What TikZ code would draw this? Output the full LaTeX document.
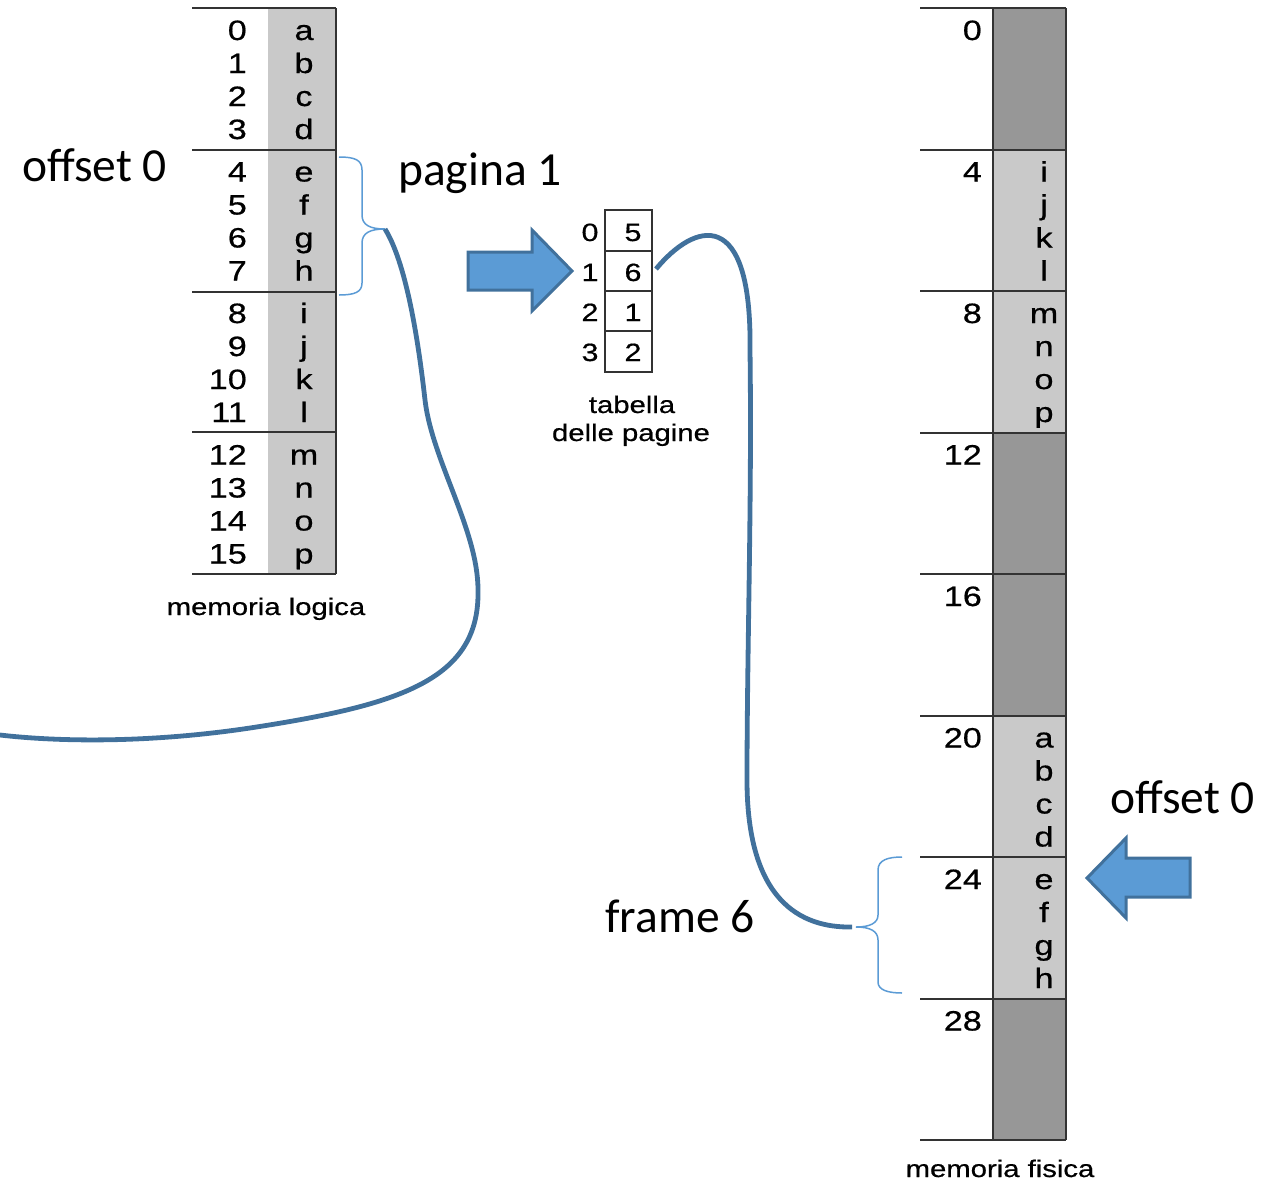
\documentclass[tikz,border=0pt]{standalone}
\usepackage{fontspec}
\setmainfont{Liberation Sans}
\newfontfamily\memfont[FakeStretch=1.22,FakeBold=0.6]{Liberation Sans}
\newfontfamily\calfont{Carlito}
\definecolor{braceblue}{HTML}{5B9BD5}
\definecolor{arrowfill}{HTML}{5B9BD5}
\definecolor{linkblue}{HTML}{41719C}
\definecolor{lightg}{HTML}{C9C9C9}
\definecolor{darkg}{HTML}{979797}
\definecolor{lineg}{HTML}{333333}
\tikzset{
  memline/.style={draw=lineg, line width=2pt},
  memnum/.style={font=\memfont\fontsize{28}{30}\selectfont, anchor=base east, inner sep=0pt},
  memlet/.style={font=\memfont\fontsize{28}{30}\selectfont, anchor=base, inner sep=0pt},
  tabtxt/.style={font=\memfont\fontsize{25}{27}\selectfont, anchor=base, inner sep=0pt},
  captxt/.style={font=\memfont\fontsize{24}{26}\selectfont, anchor=base, inner sep=0pt},
  bigtxt/.style={font=\calfont\fontsize{47.5}{50}\selectfont, anchor=base west, inner sep=0pt},
  bracestyle/.style={draw=braceblue, line width=1.5pt},
  linkstyle/.style={draw=linkblue, line width=4.8pt},
  blockarrow/.style={fill=arrowfill, draw=linkblue, line width=3pt, line join=miter},
}
\begin{document}
\begin{tikzpicture}[x=1pt,y=-1pt]
\useasboundingbox (0,0) rectangle (1271,1183);

% ---------- logical memory ----------
\fill[lightg] (268,8) rectangle (336,574);
\foreach \yy in {8,150,292,432,574} \draw[memline] (192,\yy) -- (336,\yy);
\draw[memline] (336,8) -- (336,574);
\foreach \ch [count=\k from 0] in {a,b,c,d,e,f,g,h,i,j,k,l,m,n,o,p} {
  \pgfmathsetmacro\yb{8+141.5*floor(\k/4)+22+33*mod(\k,4)+10}
  \node[memnum] (lnum\k) at (247,\yb) {\k};
  \node[memlet] (llet\k) at (304,\yb) {\ch};
}
\node[captxt] (lcap) at (266,615) {memoria logica};

% ---------- page table ----------
\draw[memline] (605,210) rectangle (652,372);
\foreach \yy in {251,291,331} \draw[memline] (605,\yy) -- (652,\yy);
\foreach \v [count=\r from 0] in {5,6,1,2} {
  \pgfmathsetmacro\yb{241+40*\r}
  \node[tabtxt] (tidx\r) at (590,\yb) {\r};
  \node[tabtxt] (tval\r) at (633,\yb) {\v};
}
\node[captxt] (tcap1) at (632,413) {tabella};
\node[captxt] (tcap2) at (631,441) {delle pagine};

% ---------- physical memory ----------
\foreach \k/\c in {0/darkg,1/lightg,2/lightg,3/darkg,4/darkg,5/lightg,6/lightg,7/darkg} {
  \pgfmathsetmacro\yt{8+141.5*\k}
  \pgfmathsetmacro\ybot{8+141.5*(\k+1)}
  \fill[\c] (993,\yt) rectangle (1066,\ybot);
}
\foreach \k in {0,...,8} {
  \pgfmathsetmacro\yt{8+141.5*\k}
  \draw[memline] (920,\yt) -- (1066,\yt);
}
\draw[memline] (993,8) -- (993,1140);
\draw[memline] (1066,8) -- (1066,1140);
\foreach \k in {0,...,7} {
  \pgfmathsetmacro\yb{8+141.5*\k+32}
  \pgfmathtruncatemacro\addr{4*\k}
  \node[memnum] (paddr\k) at (982,\yb) {\addr};
}
\foreach \f/\lets in {1/{i,j,k,l},2/{m,n,o,p},5/{a,b,c,d},6/{e,f,g,h}} {
  \foreach \ch [count=\r from 0] in \lets {
    \pgfmathsetmacro\yb{8+141.5*\f+32+33*\r}
    \node[memlet] (plet\f-\r) at (1044,\yb) {\ch};
  }
}
\node[captxt] (pcap) at (1000,1177) {memoria fisica};

% ---------- labels ----------
\node[bigtxt] (off1) at (22,181) {offset 0};
\node[bigtxt] (pag1) at (398,185) {pagina 1};
\node[bigtxt] (frm6) at (605,932) {frame 6};
\node[bigtxt] (off2) at (1110,813) {offset 0};

% ---------- braces ----------
\coordinate (lbtip) at (385,229);
\draw[bracestyle] (339,157) .. controls (355,157) and (362,160) .. (362,170) -- (362,215)
  .. controls (362,225) and (370,229) .. (lbtip)
  .. controls (370,229) and (362,233) .. (362,243) -- (362,283)
  .. controls (362,292) and (355,295) .. (339,295);
\coordinate (pbtip) at (856,927);
\draw[bracestyle] (902,857) .. controls (888,857) and (878,860) .. (878,870) -- (878,915)
  .. controls (878,923) and (870,927) .. (pbtip)
  .. controls (870,927) and (878,931) .. (878,940) -- (878,982)
  .. controls (878,990) and (888,993) .. (902,993);

% ---------- links ----------
\coordinate (lend) at (0,735);
\draw[linkstyle] (lbtip) .. controls (403,258) and (416,320) .. (425,400)
  .. controls (432,460) and (478,530) .. (478,590)
  .. controls (480,680) and (400,705) .. (250,728)
  .. controls (150,743) and (60,742) .. (lend);
\coordinate (tabout) at (656,269);
\coordinate (pend) at (852,927);
\draw[linkstyle] (tabout) .. controls (695,222) and (752,205) .. (750,350)
  .. controls (752,500) and (747,650) .. (747,780)
  .. controls (747,900) and (800,928) .. (pend);

% ---------- block arrows ----------
\draw[blockarrow] (468,252) -- (532,252) -- (532,230) -- (572,271) -- (532,311) -- (532,290) -- (468,290) -- cycle;
\draw[blockarrow] (1190,858) -- (1126,858) -- (1126,838) -- (1087,878) -- (1126,918) -- (1126,897) -- (1190,897) -- cycle;
\end{tikzpicture}
\end{document}
